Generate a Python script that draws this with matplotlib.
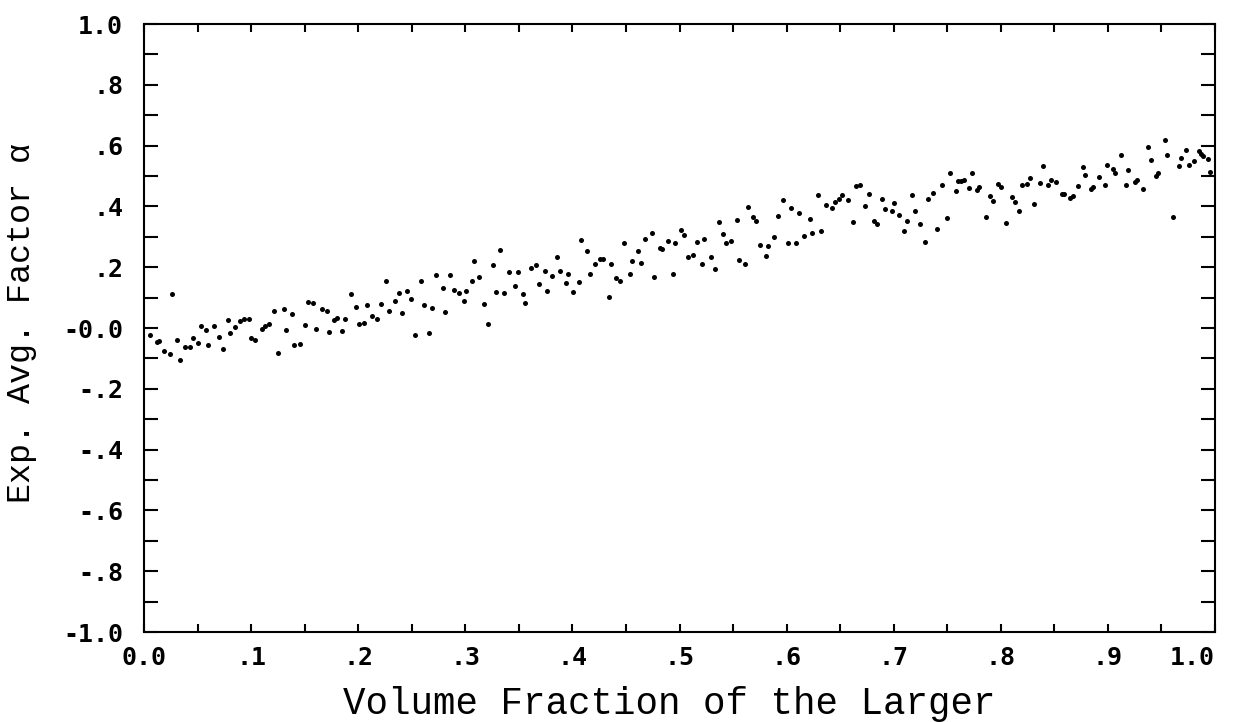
import matplotlib
matplotlib.use("Agg")
import matplotlib.pyplot as plt
from matplotlib.ticker import FixedLocator, MultipleLocator

# volume fraction of the larger component (x) and exponent-averaging factor alpha (y)
vol_frac = [
    0.006, 0.012, 0.014, 0.019, 0.024, 0.026, 0.031, 0.034, 0.038, 0.043,
    0.046, 0.050, 0.053, 0.058, 0.060, 0.065, 0.070, 0.074, 0.078, 0.080,
    0.085, 0.090, 0.093, 0.098, 0.100, 0.104, 0.110, 0.113, 0.117, 0.121,
    0.125, 0.131, 0.133, 0.138, 0.140, 0.146, 0.150, 0.153, 0.158, 0.161,
    0.166, 0.171, 0.173, 0.177, 0.180, 0.185, 0.188, 0.193, 0.198, 0.201,
    0.205, 0.208, 0.213, 0.218, 0.221, 0.226, 0.229, 0.234, 0.238, 0.241,
    0.246, 0.249, 0.253, 0.259, 0.261, 0.266, 0.269, 0.273, 0.279, 0.281,
    0.286, 0.289, 0.294, 0.299, 0.301, 0.306, 0.308, 0.313, 0.317, 0.321,
    0.326, 0.329, 0.332, 0.336, 0.341, 0.346, 0.349, 0.354, 0.356, 0.361,
    0.366, 0.369, 0.374, 0.376, 0.381, 0.386, 0.388, 0.394, 0.396, 0.401,
    0.406, 0.408, 0.414, 0.416, 0.421, 0.426, 0.429, 0.434, 0.436, 0.441,
    0.444, 0.448, 0.454, 0.456, 0.461, 0.464, 0.468, 0.474, 0.476, 0.482,
    0.484, 0.489, 0.494, 0.496, 0.501, 0.504, 0.508, 0.513, 0.516, 0.521,
    0.523, 0.529, 0.533, 0.537, 0.541, 0.543, 0.548, 0.554, 0.556, 0.561,
    0.564, 0.569, 0.571, 0.575, 0.581, 0.583, 0.588, 0.592, 0.597, 0.601,
    0.604, 0.609, 0.612, 0.616, 0.622, 0.624, 0.629, 0.632, 0.637, 0.642,
    0.645, 0.649, 0.652, 0.657, 0.662, 0.665, 0.669, 0.673, 0.677, 0.682,
    0.684, 0.689, 0.692, 0.698, 0.700, 0.705, 0.710, 0.712, 0.717, 0.720,
    0.725, 0.729, 0.732, 0.737, 0.740, 0.745, 0.750, 0.753, 0.758, 0.760,
    0.763, 0.766, 0.770, 0.773, 0.778, 0.780, 0.786, 0.790, 0.793, 0.797,
    0.800, 0.805, 0.810, 0.813, 0.817, 0.820, 0.824, 0.827, 0.831, 0.837,
    0.839, 0.844, 0.847, 0.852, 0.857, 0.859, 0.865, 0.867, 0.872, 0.877,
    0.879, 0.884, 0.886, 0.892, 0.897, 0.899, 0.905, 0.907, 0.912, 0.917,
    0.919, 0.925, 0.927, 0.933, 0.937, 0.940, 0.945, 0.947, 0.953, 0.955,
    0.961, 0.966, 0.968, 0.973, 0.976, 0.980, 0.985, 0.987, 0.989, 0.993,
    0.995,
]
alpha = [
    -0.024, -0.047, -0.043, -0.075, -0.086, 0.113, -0.040, -0.106, -0.063, -0.063,
    -0.033, -0.048, 0.008, -0.005, -0.055, 0.005, -0.029, -0.070, 0.026, -0.018,
    0.002, 0.024, 0.030, 0.029, -0.034, -0.040, -0.002, 0.008, 0.014, 0.055,
    -0.083, 0.063, -0.007, 0.047, -0.057, -0.054, 0.009, 0.084, 0.083, -0.002,
    0.063, 0.055, -0.012, 0.027, 0.032, -0.010, 0.031, 0.111, 0.069, 0.012,
    0.017, 0.075, 0.040, 0.028, 0.079, 0.156, 0.055, 0.089, 0.114, 0.048,
    0.123, 0.097, -0.024, 0.156, 0.077, -0.015, 0.067, 0.173, 0.132, 0.053,
    0.175, 0.126, 0.116, 0.088, 0.122, 0.155, 0.219, 0.168, 0.078, 0.014,
    0.207, 0.118, 0.258, 0.114, 0.184, 0.138, 0.184, 0.111, 0.083, 0.197,
    0.207, 0.145, 0.186, 0.123, 0.172, 0.233, 0.187, 0.148, 0.178, 0.117,
    0.150, 0.289, 0.254, 0.179, 0.210, 0.227, 0.227, 0.102, 0.209, 0.166,
    0.153, 0.281, 0.176, 0.220, 0.254, 0.213, 0.294, 0.312, 0.169, 0.263,
    0.261, 0.287, 0.178, 0.281, 0.323, 0.305, 0.234, 0.240, 0.282, 0.211,
    0.293, 0.233, 0.195, 0.349, 0.309, 0.281, 0.286, 0.355, 0.223, 0.210,
    0.398, 0.364, 0.352, 0.273, 0.238, 0.269, 0.300, 0.367, 0.420, 0.279,
    0.395, 0.280, 0.377, 0.304, 0.358, 0.312, 0.438, 0.320, 0.404, 0.395,
    0.415, 0.425, 0.437, 0.422, 0.348, 0.467, 0.472, 0.400, 0.440, 0.353,
    0.341, 0.423, 0.392, 0.385, 0.412, 0.372, 0.318, 0.352, 0.438, 0.386,
    0.342, 0.284, 0.424, 0.443, 0.326, 0.472, 0.361, 0.511, 0.452, 0.485,
    0.485, 0.486, 0.461, 0.511, 0.454, 0.463, 0.364, 0.433, 0.417, 0.473,
    0.465, 0.344, 0.430, 0.414, 0.385, 0.469, 0.473, 0.493, 0.408, 0.476,
    0.534, 0.471, 0.487, 0.479, 0.441, 0.441, 0.427, 0.435, 0.467, 0.529,
    0.503, 0.457, 0.464, 0.498, 0.469, 0.535, 0.524, 0.510, 0.570, 0.470,
    0.520, 0.479, 0.487, 0.457, 0.596, 0.552, 0.501, 0.509, 0.618, 0.568,
    0.365, 0.534, 0.559, 0.587, 0.535, 0.548, 0.582, 0.573, 0.566, 0.557,
    0.513,
]

x_ticks = [0.0, 0.1, 0.2, 0.3, 0.4, 0.5, 0.6, 0.7, 0.8, 0.9, 1.0]
x_tick_labels = ["0.0", ".1", ".2", ".3", ".4", ".5", ".6", ".7", ".8", ".9", "1.0"]
y_ticks = [1.0, 0.8, 0.6, 0.4, 0.2, 0.0, -0.2, -0.4, -0.6, -0.8, -1.0]
y_tick_labels = ["1.0", ".8", ".6", ".4", ".2", "-0.0", "-.2", "-.4", "-.6", "-.8", "-1.0"]

W, H = 1234, 722
fig = plt.figure(figsize=(W / 100, H / 100), dpi=100)
ax = fig.add_axes([144 / W, 1 - 632 / H, (1215 - 144) / W, (632 - 24) / H])

ax.scatter(vol_frac, alpha, s=13, color="black", linewidths=0, zorder=3)

ax.set_xlim(0, 1)
ax.set_ylim(-1, 1)

tick_font = dict(family="DejaVu Sans Mono", weight="bold", size=18)
ax.xaxis.set_major_locator(FixedLocator(x_ticks))
ax.xaxis.set_minor_locator(MultipleLocator(0.05))
ax.yaxis.set_major_locator(FixedLocator(y_ticks))
ax.yaxis.set_minor_locator(MultipleLocator(0.1))
ax.set_xticklabels(x_tick_labels, fontdict=tick_font)
ax.set_yticklabels(y_tick_labels, fontdict=tick_font)
ax.get_xticklabels()[-1].set_ha("right")

ax.tick_params(axis="x", which="both", direction="in", length=6, width=1.5,
               top=True, bottom=True, pad=10)
ax.tick_params(axis="y", which="both", direction="in", length=10, width=1.5,
               left=True, right=True, pad=15)
for sp in ax.spines.values():
    sp.set_linewidth(1.5)

fig.text(343 / W, 1 - 714 / H, "Volume Fraction of the Larger",
         ha="left", va="baseline", family="Liberation Mono", size=27)
fig.text(22 / W, 1 - 143 / H, "Exp. Avg. Factor \u03b1", rotation=90,
         ha="center", va="top", family="Liberation Mono", size=24)

fig.savefig("out.png", dpi=100)
